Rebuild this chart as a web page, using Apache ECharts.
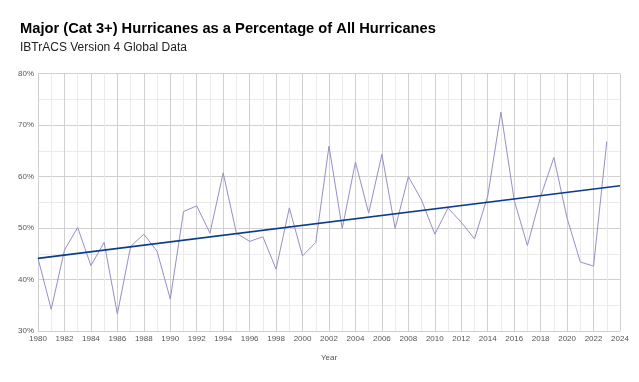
<!DOCTYPE html>
<html><head><meta charset="utf-8">
<script src="https://cdn.jsdelivr.net/npm/echarts@6/dist/echarts.min.js"></script>
<style>html,body{margin:0;padding:0;background:#fff}#c{width:639px;height:382px}</style>
</head><body><div id="c"></div>
<script>
const years = [1980,1981,1982,1983,1984,1985,1986,1987,1988,1989,1990,1991,1992,1993,1994,1995,1996,1997,1998,1999,2000,2001,2002,2003,2004,2005,2006,2007,2008,2009,2010,2011,2012,2013,2014,2015,2016,2017,2018,2019,2020,2021,2022,2023];
const majorPct = [44.1,34.2,45.7,50.1,42.7,47.2,33.3,46.4,48.8,45.5,36.2,53.2,54.3,49.0,60.7,49.0,47.4,48.3,42.0,53.9,44.6,47.2,65.9,49.9,62.8,52.9,64.3,49.9,60.0,55.4,48.8,53.9,51.1,47.9,56.2,72.5,55.4,46.6,56.1,63.7,51.9,43.4,42.6,66.8];
const trendYears = [1980, 2024];
const trendPct = [44.1, 58.2];
const yTicks = [30,40,50,60,70,80];

const chart = echarts.init(document.getElementById('c'));
const font = '"Liberation Sans", Arial, sans-serif';
chart.setOption({
  animation:false,
  backgroundColor:'#fff',
  title:[
    {text:'Major (Cat 3+) Hurricanes as a Percentage of All Hurricanes', left:15, top:16,
     textStyle:{fontFamily:font, fontSize:14.7, fontWeight:'bold', color:'#000'}},
    {text:'IBTrACS Version 4 Global Data', left:15, top:37,
     textStyle:{fontFamily:font, fontSize:12, fontWeight:'normal', color:'#222'}}
  ],
  grid:{left:38, right:19, top:73.5, bottom:51, containLabel:false},
  xAxis:{type:'value', min:1980, max:2024, interval:2,
    name:'Year', nameLocation:'middle', nameGap:23,
    nameTextStyle:{fontFamily:font, fontSize:8, color:'#555'},
    axisLine:{show:false}, axisTick:{show:false},
    axisLabel:{fontFamily:font, fontSize:8, color:'#555', margin:4, formatter:v=>String(v)},
    splitLine:{show:true, lineStyle:{color:'#d0d0d0', width:1}},
    minorTick:{show:false, splitNumber:2},
    minorSplitLine:{show:true, lineStyle:{color:'#ebebeb', width:1}}
  },
  yAxis:{type:'value', min:yTicks[0], max:yTicks[yTicks.length-1], interval:10,
    axisLine:{show:false}, axisTick:{show:false},
    axisLabel:{fontFamily:font, fontSize:8, color:'#555', margin:4, formatter:v=>v+'%'},
    splitLine:{show:true, lineStyle:{color:'#d0d0d0', width:1}},
    minorTick:{show:false, splitNumber:2},
    minorSplitLine:{show:true, lineStyle:{color:'#ebebeb', width:1}}
  },
  series:[
    {type:'line', data:years.map((y,i)=>[y,majorPct[i]]), showSymbol:false,
     lineStyle:{color:'#9590c4', width:1}, z:2},
    {type:'line', data:trendYears.map((y,i)=>[y,trendPct[i]]), showSymbol:false,
     lineStyle:{color:'#0b3d8c', width:1.6}, z:3}
  ]
});
</script></body></html>
